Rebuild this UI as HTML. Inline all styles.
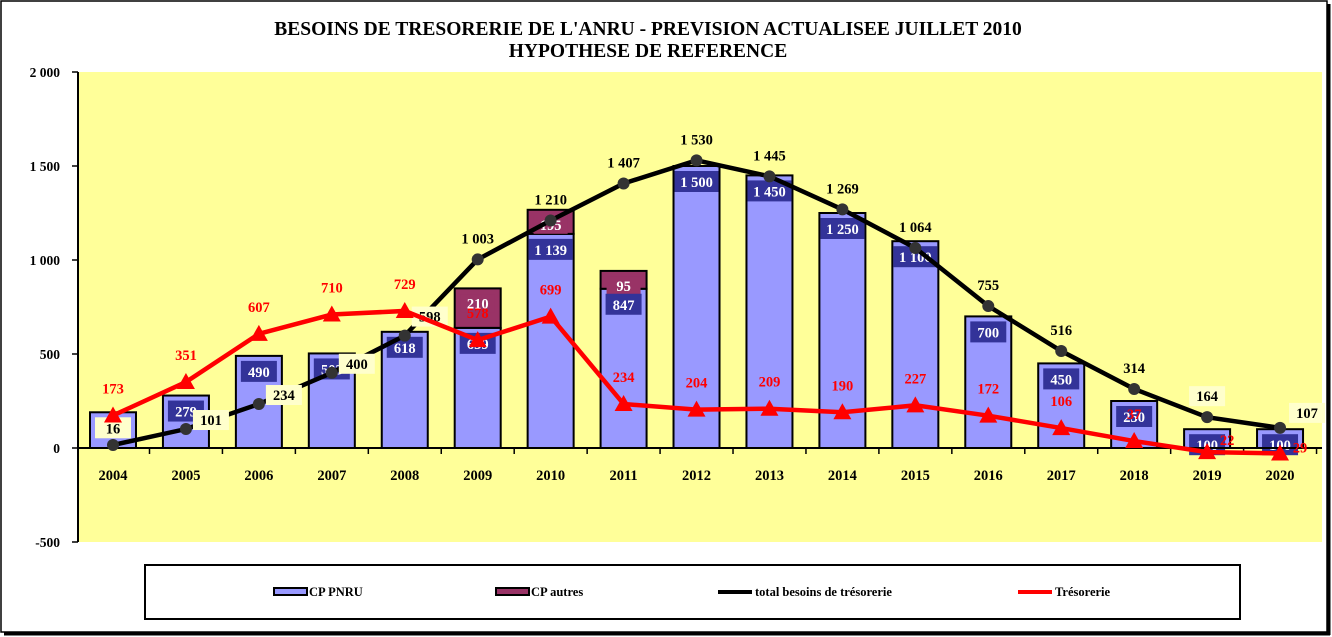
<!DOCTYPE html>
<html><head><meta charset="utf-8"><style>
body{margin:0;background:#fff;}
svg{display:block;font-family:"Liberation Serif",serif;font-weight:bold;}
</style></head><body>
<svg id="c" width="1332" height="637" xmlns="http://www.w3.org/2000/svg">
<rect x="1" y="1" width="1326" height="631" fill="#fff" stroke="#000" stroke-width="1.5"/>
<line x1="1329" y1="4" x2="1329" y2="635" stroke="#000" stroke-width="3"/>
<line x1="4" y1="634" x2="1330" y2="634" stroke="#000" stroke-width="3"/>
<rect x="78" y="72" width="1244" height="470" fill="#ffff99"/>
<text x="648" y="35" text-anchor="middle" font-size="19.5">BESOINS DE TRESORERIE DE L'ANRU - PREVISION ACTUALISEE JUILLET 2010</text>
<text x="648" y="57" text-anchor="middle" font-size="19.5">HYPOTHESE DE REFERENCE</text>
<g id="g"></g>
<rect x="145" y="565" width="1095" height="54" fill="#fff" stroke="#000" stroke-width="2"/>
<g font-size="12.5">
<rect x="274" y="588" width="33" height="7" fill="#9999ff" stroke="#000" stroke-width="2"/>
<text x="309" y="596">CP PNRU</text>
<rect x="496" y="588" width="33" height="7" fill="#993366" stroke="#000" stroke-width="2"/>
<text x="531" y="596">CP autres</text>
<line x1="718" y1="592" x2="752" y2="592" stroke="#000" stroke-width="4"/>
<text x="755" y="596">total besoins de trésorerie</text>
<line x1="1018" y1="592" x2="1052" y2="592" stroke="#f00" stroke-width="4"/>
<text x="1055" y="596">Trésorerie</text>
</g>
</svg>
<script>
const years=["2004","2005","2006","2007","2008","2009","2010","2011","2012","2013","2014","2015","2016","2017","2018","2019","2020"];
const pnru=[190,279,490,503,618,639,1139,847,1500,1450,1250,1100,700,450,250,100,100];
const pnruLabels=["16","279","490","503","618","639","1 139","847","1 500","1 450","1 250","1 100","700","450","250","100","100"];
const autres=[0,0,0,0,0,210,128,95,0,0,0,0,0,0,0,0,0];
const autresLabels=["","","","","","210","195","95","","","","","","","","",""];
const total=[16,101,234,400,598,1003,1210,1407,1530,1445,1269,1064,755,516,314,164,107];
const totalLabels=["","101","234","400","598","1 003","1 210","1 407","1 530","1 445","1 269","1 064","755","516","314","164","107"];
const treso=[173,351,607,710,729,574,699,234,204,209,190,227,172,106,37,-22,-29];
const tresoLabels=["173","351","607","710","729","578","699","234","204","209","190","227","172","106","37","22","29"];
const yTicks=[2000,1500,1000,500,0,-500];
const yTickLabels=["2 000","1 500","1 000","500","0","-500"];
const NS="http://www.w3.org/2000/svg",g=document.getElementById('g');
const y=v=>448-v*94/500, x=i=>113+i*72.94;
function mk(t,a,txt){const e=document.createElementNS(NS,t);for(const k in a)e.setAttribute(k,a[k]);if(txt!==undefined)e.textContent=txt;g.appendChild(e);return e;}
let e=mk('line',{x1:78,y1:72,x2:78,y2:542,stroke:'#000','stroke-width':2});

yTicks.forEach((v,i)=>{let t=mk('line',{x1:72,y1:y(v),x2:78,y2:y(v),stroke:'#000','stroke-width':1.5});

let l=mk('text',{x:60,y:y(v)+5,'text-anchor':'end','font-size':13.5},yTickLabels[i]);
});
years.forEach((yr,i)=>{const cx=x(i),w=46;
let b=mk('rect',{x:cx-w/2,y:y(pnru[i]),width:w,height:y(0)-y(pnru[i]),fill:'#9999ff',stroke:'#000','stroke-width':2});

if(autres[i]>0){let a=mk('rect',{x:cx-w/2,y:y(pnru[i]+autres[i]),width:w,height:y(pnru[i])-y(pnru[i]+autres[i]),fill:'#993366',stroke:'#000','stroke-width':2});

let ab=mk('rect',{x:cx-17,y:y(pnru[i]+autres[i])+6,width:34,height:18,fill:'#993366'});

let at=mk('text',{x:cx,y:y(pnru[i]+autres[i])+20,'text-anchor':'middle','font-size':14.5,fill:'#fff'},autresLabels[i]);
}
const lw=pnruLabels[i].length>3?44:36;
let lb=mk('rect',{x:cx-lw/2,y:y(pnru[i])+5,width:lw,height:21,fill:i==0?'#ffffcc':'#333399'});

let lt=mk('text',{x:cx,y:y(pnru[i])+21,'text-anchor':'middle','font-size':14.5,fill:i==0?'#000':'#fff'},pnruLabels[i]);

let tk=mk('line',{x1:cx+36.5,y1:448,x2:cx+36.5,y2:454,stroke:'#000','stroke-width':1.5});

let xl=mk('text',{x:cx,y:480,'text-anchor':'middle','font-size':14.5},yr);
});
e=mk('line',{x1:78,y1:448,x2:1322,y2:448,stroke:'#000','stroke-width':2});

e=mk('polyline',{points:total.map((v,i)=>x(i)+','+y(v)).join(' '),fill:'none',stroke:'#000','stroke-width':4.5});

total.forEach((v,i)=>{let p=mk('circle',{cx:x(i),cy:y(v),r:6,fill:'#333'});

if(!totalLabels[i])return;
const low=i<=4, tx=low?x(i)+25:(i==16?x(i)+27:x(i)), ty=low?y(v)+(i==4?-14:-4):(i==16?y(v)-10:y(v)-16);
if(low||i>=15){let bx=mk('rect',{x:tx-18,y:ty-15,width:36,height:20,fill:'#ffffcc'});}
let t=mk('text',{x:tx,y:ty,'text-anchor':'middle','font-size':14.5},totalLabels[i]);
});
e=mk('polyline',{points:treso.map((v,i)=>x(i)+','+y(v)).join(' '),fill:'none',stroke:'#f00','stroke-width':4.5});

treso.forEach((v,i)=>{const px=x(i),py=y(v);
let p=mk('polygon',{points:`${px},${py-9} ${px-9},${py+7} ${px+9},${py+7}`,fill:'#f00'});

const tx=i>=15?px+20:px, ty=i==15?py-7:(i==16?py-1:py-22);
let t=mk('text',{x:tx,y:ty,'text-anchor':'middle','font-size':14.5,fill:'#f00'},tresoLabels[i]);
});
</script>
</body></html>
